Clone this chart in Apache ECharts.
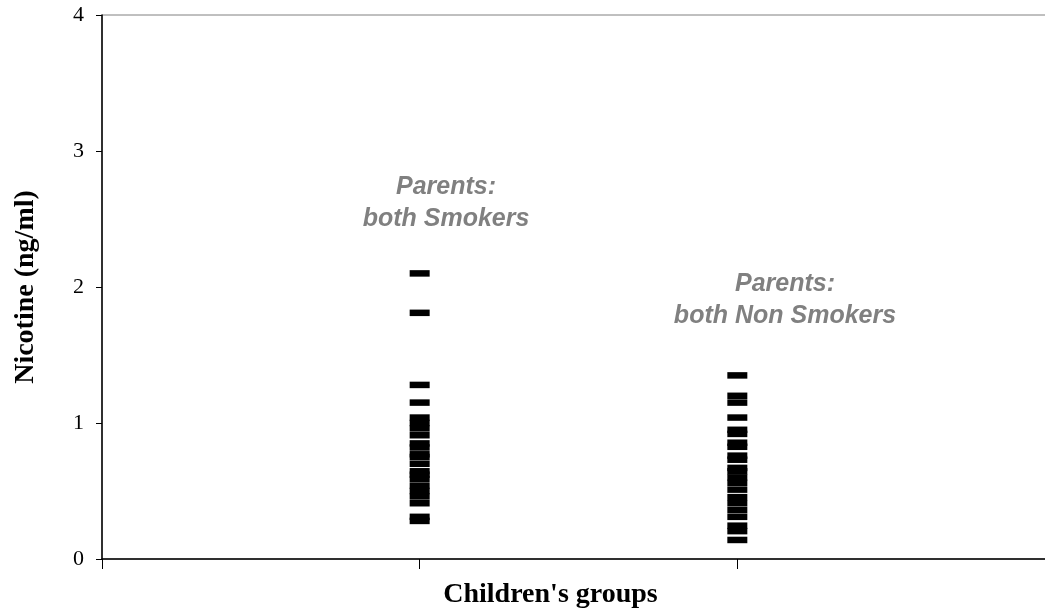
<!DOCTYPE html>
<html>
<head>
<meta charset="utf-8">
<script src="https://cdn.jsdelivr.net/npm/echarts@6/dist/echarts.min.js"></script>
<style>
  html, body { margin: 0; padding: 0; background: #ffffff; }
  #chart { width: 1045px; height: 616px; }
</style>
</head>
<body>
<div id="chart"></div>
<script>
// Group positions on the horizontal axis
const groupPositions = [1, 2];
const groupNotes = ['Parents:\nboth Smokers', 'Parents:\nboth Non Smokers'];
// Where each group's note sits, in axis units [x, y]
const notePositions = [[1.083, 2.62], [2.15, 1.90]];

// Nicotine readings (ng/ml), one per child
const bothSmokers = [2.10, 1.81, 1.28, 1.15, 1.04, 1.00, 0.96, 0.91, 0.85, 0.82,
  0.77, 0.75, 0.70, 0.645, 0.62, 0.59, 0.54, 0.50, 0.46, 0.41, 0.31, 0.28];
const bothNonSmokers = [1.35, 1.20, 1.15, 1.04, 0.95, 0.92, 0.855, 0.825, 0.76, 0.73,
  0.67, 0.645, 0.60, 0.56, 0.51, 0.455, 0.41, 0.36, 0.31, 0.245, 0.205, 0.14];

// Y axis ticks
const yTicks = [0, 1, 2, 3, 4];

const chart = echarts.init(document.getElementById('chart'));

const serif = '"Liberation Serif", "Times New Roman", serif';
const sans = '"Liberation Sans", Arial, sans-serif';

const dashSeries = (values, x) => ({
  type: 'scatter',
  symbol: 'rect',
  symbolSize: [20, 6.5],
  itemStyle: { color: '#000000', opacity: 1 },
  silent: true,
  data: values.map(v => [x, v])
});

chart.setOption({
  animation: false,
  backgroundColor: '#ffffff',
  grid: {
    left: 102, right: -10, top: 15, bottom: 57,
    containLabel: false,
    outerBoundsMode: 'none',
    show: true, borderColor: '#808080', borderWidth: 1,
    backgroundColor: 'transparent'
  },
  xAxis: {
    type: 'value',
    min: 0, max: 3, interval: 1,
    name: "Children's groups",
    nameLocation: 'middle',
    nameGap: 22,
    nameTextStyle: {
      fontFamily: serif, fontWeight: 'bold', fontSize: 28, color: '#000',
      padding: [0, 56, 0, 0]
    },
    axisLine: { show: true, onZero: false, lineStyle: { color: '#000', width: 1.5 } },
    axisTick: { show: true, inside: false, length: 10, lineStyle: { color: '#000', width: 1 } },
    axisLabel: { show: false },
    splitLine: { show: false }
  },
  yAxis: {
    type: 'value',
    min: yTicks[0], max: yTicks[yTicks.length - 1], interval: 1,
    name: 'Nicotine (ng/ml)',
    nameLocation: 'middle',
    nameGap: 62,
    nameTextStyle: {
      fontFamily: serif, fontWeight: 'bold', fontSize: 28, color: '#000'
    },
    axisLine: { show: true, onZero: false, lineStyle: { color: '#000', width: 1.5 } },
    axisTick: { show: true, inside: false, length: 6, lineStyle: { color: '#000', width: 1 } },
    axisLabel: { fontFamily: serif, fontSize: 22, color: '#000', margin: 18 },
    splitLine: { show: false }
  },
  series: [
    dashSeries(bothSmokers, groupPositions[0]),
    dashSeries(bothNonSmokers, groupPositions[1]),
    {
      type: 'scatter',
      symbolSize: 0,
      silent: true,
      itemStyle: { opacity: 1 },
      data: notePositions.map((p, i) => ({ value: p, name: groupNotes[i] })),
      label: {
        show: true,
        position: 'inside',
        formatter: p => p.name,
        fontFamily: sans,
        fontStyle: 'italic',
        fontWeight: 'bold',
        fontSize: 25,
        lineHeight: 32,
        color: '#808080',
        opacity: 1,
        align: 'center',
        verticalAlign: 'middle'
      }
    }
  ]
});
</script>
</body>
</html>
